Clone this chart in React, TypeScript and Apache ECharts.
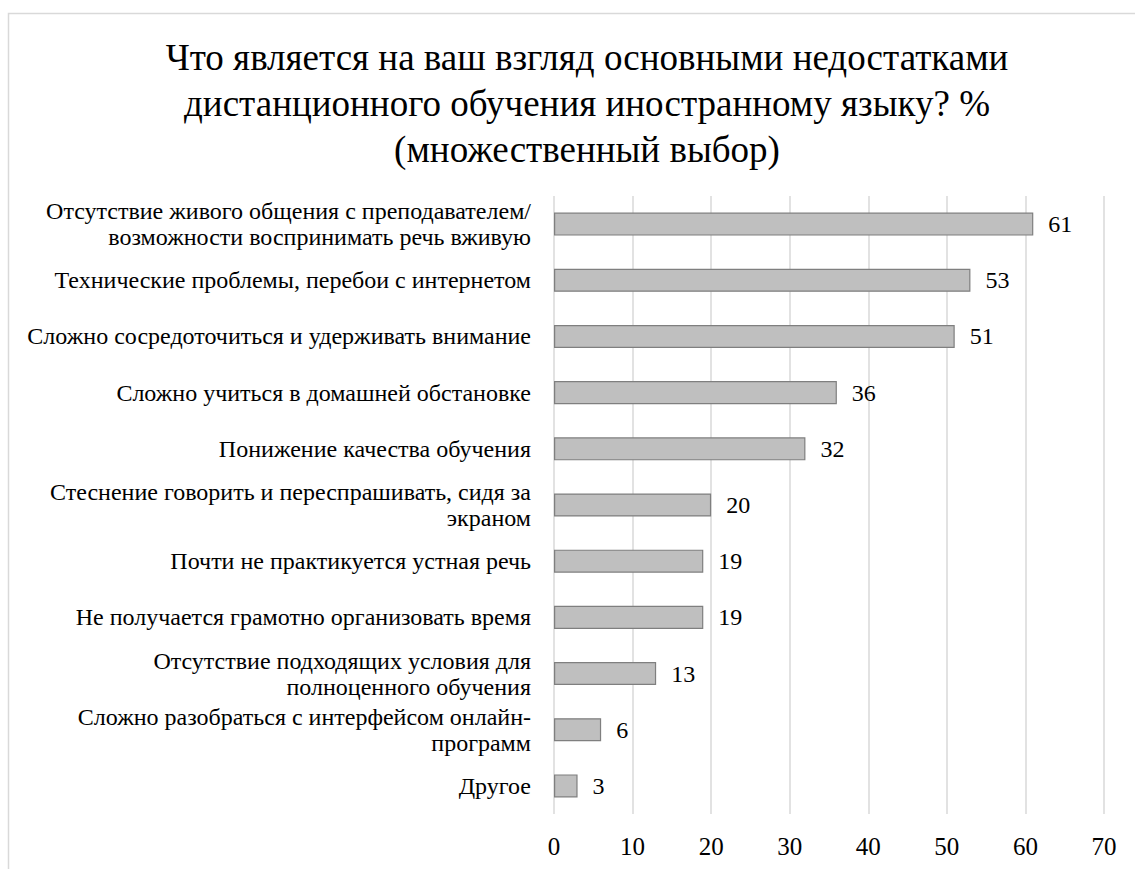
import React, { useEffect, useRef } from "react";
import * as echarts from "echarts";

const titleText =
  "Что является на ваш взгляд основными недостатками\nдистанционного обучения иностранному языку? %\n(множественный выбор)";

const categories = [
  "Отсутствие живого общения с преподавателем/\nвозможности воспринимать речь вживую",
  "Технические проблемы, перебои с интернетом",
  "Сложно сосредоточиться и удерживать внимание",
  "Сложно учиться в домашней обстановке",
  "Понижение качества обучения",
  "Стеснение говорить и переспрашивать, сидя за\nэкраном",
  "Почти не практикуется устная речь",
  "Не получается грамотно организовать время",
  "Отсутствие подходящих условия для\nполноценного обучения",
  "Сложно разобраться с интерфейсом онлайн-\nпрограмм",
  "Другое",
];

const values = [61, 53, 51, 36, 32, 20, 19, 19, 13, 6, 3];

const xTicks = { min: 0, max: 70, interval: 10 };

const FONT = "Liberation Serif";

export default function App() {
  const ref = useRef<HTMLDivElement>(null);
  useEffect(() => {
    if (!ref.current) return;
    const chart = echarts.init(ref.current, null, { renderer: "svg" });
    chart.setOption({
      animation: false,
      backgroundColor: "#ffffff",
      title: {
        text: titleText,
        left: 582,
        top: 29,
        textAlign: "center",
        textStyle: {
          fontFamily: FONT,
          fontSize: 37,
          fontWeight: "normal",
          color: "#000000",
          lineHeight: 46,
        },
      },
      graphic: [
        {
          type: "rect",
          shape: { x: 8.5, y: 13.5, width: 1300, height: 1000 },
          style: { fill: "none", stroke: "#d9d9d9", lineWidth: 1.5 },
          silent: true,
          z: -10,
        },
      ],
      grid: { left: 554, right: 31, top: 196, bottom: 55, containLabel: false },
      xAxis: {
        type: "value",
        min: xTicks.min,
        max: xTicks.max,
        interval: xTicks.interval,
        axisLine: { show: false },
        axisTick: { show: false },
        splitLine: { show: true, lineStyle: { color: "#d9d9d9", width: 1.5 } },
        axisLabel: {
          fontFamily: FONT,
          fontSize: 25,
          color: "#000000",
          margin: 20,
        },
      },
      yAxis: {
        type: "category",
        data: categories,
        inverse: true,
        axisLine: { show: false },
        axisTick: { show: false },
        axisLabel: {
          fontFamily: FONT,
          fontSize: 24,
          lineHeight: 26,
          color: "#000000",
          margin: 23,
          align: "right",
        },
      },
      series: [
        {
          type: "bar",
          data: values,
          barCategoryGap: "59%",
          itemStyle: {
            color: "#bfbfbf",
            borderColor: "#7f7f7f",
            borderWidth: 1.2,
          },
          label: {
            show: true,
            position: "right",
            distance: 15,
            fontFamily: FONT,
            fontSize: 24,
            color: "#000000",
          },
        },
      ],
    });
    return () => chart.dispose();
  }, []);
  return (
    <div
      ref={ref}
      style={{ position: "fixed", left: 0, top: 0, width: 1135, height: 869 }}
    />
  );
}
